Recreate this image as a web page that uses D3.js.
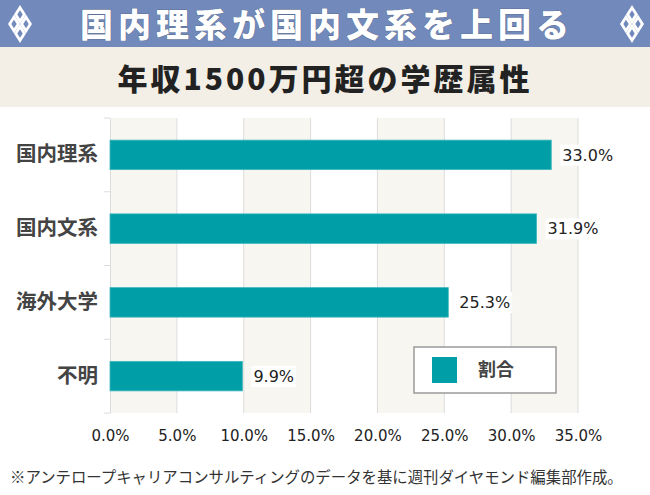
<!DOCTYPE html>
<html><head><meta charset="utf-8">
<script src="https://cdn.jsdelivr.net/npm/d3@7"></script>
<style>body{margin:0;background:#fff;}svg{display:block;}</style>
</head><body>
<script>
const title = "国内理系が国内文系を上回る";
const subtitle = "年収1500万円超の学歴属性";
const categories = ["国内理系", "国内文系", "海外大学", "不明"];
const values = [33.0, 31.9, 25.3, 9.9];
const xTicks = [0, 5, 10, 15, 20, 25, 30, 35];
const seriesName = "割合";
const footnote = "※アンテロープキャリアコンサルティングのデータを基に週刊ダイヤモンド編集部作成。";

const W = 650, H = 495;
const svg = d3.select("body").append("svg").attr("width", W).attr("height", H);
const jp = "'Noto Sans CJK JP', 'Noto Sans', sans-serif";
const num = "'DejaVu Sans', Verdana, sans-serif";

// header
svg.append("rect").attr("x",0).attr("y",0).attr("width",W).attr("height",47).attr("fill","#7189bb");
svg.append("rect").attr("x",0).attr("y",47).attr("width",W).attr("height",60).attr("fill","#f3efe6");
svg.append("text").attr("x",327).attr("y",37).attr("text-anchor","middle")
  .attr("font-family",jp).attr("font-weight",900).attr("font-size",33).attr("letter-spacing",5)
  .attr("fill","#fff").attr("stroke","#4a5a7a").attr("stroke-width",0.6).attr("paint-order","stroke")
  .text(title);
svg.append("text").attr("x",325).attr("y",90).attr("text-anchor","middle")
  .attr("font-family",jp).attr("font-weight",900).attr("font-size",30).attr("letter-spacing",3)
  .attr("fill","#222").text(subtitle);

// diamond ornaments
function diamond(cx, cy){
  const g = svg.append("g").attr("transform",`translate(${cx},${cy})`);
  const hw = 6, hh = 9.5;
  const centers = [[0,-hh],[-hw,0],[hw,0],[0,hh]];
  centers.forEach(([x,y])=>{
    g.append("path").attr("d",`M${x},${y-hh}L${x+hw},${y}L${x},${y+hh}L${x-hw},${y}Z`)
      .attr("fill","#fff");
    g.append("path").attr("d",`M${x},${y-hh*0.45}L${x+hw*0.45},${y}L${x},${y+hh*0.45}L${x-hw*0.45},${y}Z`)
      .attr("fill","#7189bb");
  });
}
diamond(20,24); diamond(632,24);

// plot
const x = d3.scaleLinear().domain([0,35]).range([110,578]);
const y = d3.scaleBand().domain(categories).range([118,413]).paddingInner(0.6).paddingOuter(0.3);

// alternating bands
const bandIdx = d3.range(xTicks.length-1);
svg.append("g").selectAll("rect").data(bandIdx).join("rect")
  .attr("x",i=>x(xTicks[i])).attr("width",i=>x(xTicks[i+1])-x(xTicks[i]))
  .attr("y",118).attr("height",413-118)
  .attr("fill",i=> i%2===0 ? "#f8f6f1" : "#ffffff");

// gridlines
svg.append("g").selectAll("line").data(xTicks.slice(1)).join("line")
  .attr("x1",d=>x(d)).attr("x2",d=>x(d)).attr("y1",118).attr("y2",413)
  .attr("stroke","#dcdcdc").attr("stroke-width",1);

// y axis
const yAxis = svg.append("g").attr("transform","translate(110,0)")
  .call(d3.axisLeft(y).tickSize(0).tickPadding(12));
yAxis.select(".domain").attr("stroke","#dcdcdc");
yAxis.selectAll("text").attr("font-family",jp).attr("font-size",20.5).attr("font-weight",700).attr("fill","#444");
// category boundary ticks
const bounds = d3.range(categories.length+1).map(i=>118 + i*(413-118)/categories.length);
svg.append("g").selectAll("line").data(bounds).join("line")
  .attr("x1",104).attr("x2",110).attr("y1",d=>d).attr("y2",d=>d)
  .attr("stroke","#dcdcdc");

// x axis labels
const xAxis = svg.append("g").attr("transform","translate(0,413)")
  .call(d3.axisBottom(x).tickValues(xTicks).tickSize(0).tickPadding(17).tickFormat(d=>d.toFixed(1)+"%"));
xAxis.select(".domain").remove();
xAxis.selectAll("text").attr("font-family",num).attr("font-size",15).attr("fill","#222");

// bars
const bars = categories.map((c,i)=>({c, v: values[i]}));
svg.append("g").selectAll("rect").data(bars).join("rect")
  .attr("x",x(0)).attr("y",d=>y(d.c)).attr("width",d=>x(d.v)-x(0)).attr("height",y.bandwidth())
  .attr("fill","#009fa8").attr("stroke","#3db7bd").attr("stroke-width",0.8);

// value labels
const lg = svg.append("g").selectAll("g").data(bars).join("g")
  .attr("transform",d=>`translate(${x(d.v)+11},${y(d.c)+y.bandwidth()/2})`);
lg.append("text").attr("dy","0.36em").attr("font-family",num).attr("font-size",16).attr("fill","#222")
  .text(d=>d.v.toFixed(1)+"%")
  .each(function(){
    const bb = this.getBBox();
    d3.select(this.parentNode).insert("rect","text").attr("x",bb.x-2).attr("y",bb.y-1)
      .attr("width",bb.width+4).attr("height",bb.height+2).attr("fill","#fff");
  });

// legend
svg.append("rect").attr("x",414).attr("y",347).attr("width",142).attr("height",46)
  .attr("fill","#fff").attr("stroke","#9a9a9a").attr("stroke-width",1.5);
svg.append("rect").attr("x",432).attr("y",357).attr("width",25).attr("height",26).attr("fill","#009fa8");
svg.append("text").attr("x",478).attr("y",370).attr("dy","0.36em").attr("font-family",jp)
  .attr("font-size",18).attr("font-weight",700).attr("fill","#444").text(seriesName);

// footnote
svg.append("text").attr("x",10).attr("y",483).attr("font-family",jp).attr("font-size",15.4)
  .attr("fill","#333").text(footnote);
</script>
</body></html>
